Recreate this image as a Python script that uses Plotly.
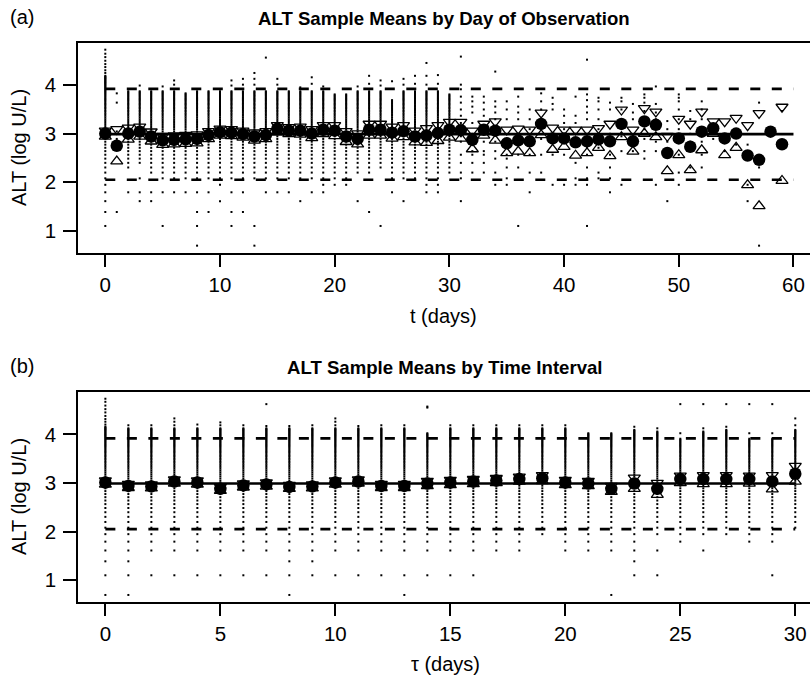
import numpy as np
import plotly.graph_objects as go

# ---------------- Panel (a): by day of observation ----------------
days_a = list(range(60))
mean_a = [3.00, 2.75, 3.00, 3.04, 2.94, 2.86, 2.87, 2.88, 2.89, 2.97,
          3.03, 3.02, 2.99, 2.94, 2.97, 3.10, 3.06, 3.06, 3.00, 3.08,
          3.06, 2.94, 2.89, 3.08, 3.08, 3.02, 3.05, 2.94, 2.96, 3.01,
          3.08, 3.07, 2.87, 3.08, 3.06, 2.80, 2.86, 2.84, 3.20, 2.90,
          2.90, 2.82, 2.84, 2.88, 2.84, 3.20, 2.84, 3.25, 3.18, 2.60,
          2.90, 2.73, 3.04, 3.11, 2.90, 3.00, 2.55, 2.46, 3.04, 2.78]
upper_a = [3.06, 3.09, 3.12, 3.14, 3.04, 2.95, 2.96, 2.97, 2.98, 3.05,
           3.10, 3.09, 3.06, 3.02, 3.05, 3.17, 3.13, 3.14, 3.09, 3.17,
           3.17, 3.05, 3.00, 3.20, 3.20, 3.14, 3.17, 3.06, 3.11, 3.17,
           3.24, 3.24, 3.06, 3.20, 3.25, 3.08, 3.10, 3.08, 3.43, 3.12,
           3.08, 3.08, 3.08, 3.11, 3.20, 3.49, 3.08, 3.52, 3.45, 2.95,
           3.30, 3.20, 3.45, 3.25, 3.25, 3.32, 3.17, 3.42, None, 3.55]
lower_a = [2.94, 2.43, 2.88, 2.94, 2.84, 2.77, 2.78, 2.79, 2.80, 2.89,
           2.96, 2.95, 2.92, 2.86, 2.89, 3.03, 2.99, 2.98, 2.91, 2.99,
           2.95, 2.83, 2.78, 2.96, 2.96, 2.90, 2.93, 2.82, 2.81, 2.85,
           2.92, 2.90, 2.68, 2.96, 2.86, 2.60, 2.63, 2.60, 2.97, 2.67,
           2.73, 2.55, 2.60, 2.71, 2.54, 2.93, 2.63, 3.00, 2.93, 2.23,
           2.56, 2.25, 2.66, 3.00, 2.56, 2.71, 1.94, 1.51, None, 2.03]

# individual ALT observations (U/L): a contiguous run lo..hi plus extra values
obs_lo_a = [7, None, 10, 11, 9, 8, 8, 8, 8, 8, 7, 8, 8, 8, 8, 8, 8, 8, 8, 7,
            8, 8, 9, 9, 10, 8, 8, 8, 6, 6, 9] + [None] * 29
obs_hi_a = [66, None, 48, 48, 48, 48, 48, 46, 48, 48, 48, 48, 48, 48, 48, 48, 48, 48, 48, 48,
            45, 45, 48, 48, 48, 40, 48, 48, 48, 48, 45] + [None] * 29
obs_extra_a = [
    [3, 4, 5, 6, 70, 74, 79, 84, 90, 97, 104, 113],
    [4, 15, 18, 21, 38, 46],
    [6], [5, 6, 8, 54], [5, 6], [3, 6, 53], [6, 55, 60], [6], [2, 3, 4, 6], [4, 6],
    [5], [3, 4, 6, 54, 60], [4, 6, 55, 62], [2, 3, 55, 62, 70], [6, 96], [6, 55, 62], [6],
    [5, 52], [6, 56, 64], [6, 53],
    [7], [7], [5, 53], [4, 56, 66], [3, 54, 60], [6, 59], [5, 55, 62], [56, 66],
    [55, 66, 86], [56, 67], [],
    [98, 55, 50, 43, 38, 33, 29, 25, 21, 19, 17, 13, 11, 9, 8, 5],
    [43, 39, 35, 31, 25, 20, 17, 14, 13, 11, 9],
    [43, 38, 33, 29, 22, 20, 17, 14, 13, 11, 9],
    [72, 39, 35, 31, 27, 21, 17, 14, 12, 9, 7],
    [39, 33, 27, 18, 16, 13, 12, 10, 8, 7],
    [43, 35, 31, 27, 20, 17, 13, 10, 3],
    [33, 27, 22, 18, 16, 13, 9, 6],
    [46, 39, 33, 27, 25, 18, 13, 9],
    [42, 37, 33, 20, 17, 13, 7],
    [33, 29, 25, 22, 17, 13, 7],
    [43, 29, 25, 20, 17, 11, 8, 7],
    [92, 45, 40, 35, 31, 27, 20, 15, 13, 10, 8, 7, 3],
    [42, 39, 33, 27, 22, 18, 15, 9, 8],
    [38, 33, 20, 17, 13, 10, 8, 6],
    [42, 39, 33, 25, 19, 14, 7],
    [37, 31, 27, 19, 17, 14],
    [45, 42, 38, 32, 27, 22, 18, 14, 12],
    [53, 37, 31, 27, 22, 17, 14, 7],
    [26, 22, 17, 5],
    [45, 42, 39, 33, 27, 22, 17, 13, 9, 7],
    [32, 27, 20, 17, 10],
    [39, 33, 27, 22, 17, 13, 10],
    [23, 20, 18],
    [17, 14],
    [16],
    [16, 13, 7, 5],
    [38, 10, 2],
    [21],
    [32],
]

# ---------------- Panel (b): by time interval ----------------
tau_b = list(range(31))
mean_b = [3.01, 2.94, 2.93, 3.03, 3.01, 2.88, 2.95, 2.97, 2.92, 2.93,
          3.01, 3.03, 2.94, 2.94, 2.99, 3.01, 3.03, 3.05, 3.08, 3.10,
          3.01, 2.99, 2.88, 2.99, 2.88, 3.08, 3.08, 3.08, 3.08, 3.03, 3.19]
upper_b = [3.05, 2.98, 2.97, 3.07, 3.05, 2.92, 2.99, 3.01, 2.96, 2.97,
           3.05, 3.07, 2.98, 2.98, 3.04, 3.06, 3.08, 3.10, 3.13, 3.16,
           3.06, 3.04, 2.94, 3.11, 3.00, 3.15, 3.16, 3.16, 3.15, 3.16, 3.35]
lower_b = [2.97, 2.90, 2.89, 2.99, 2.97, 2.84, 2.91, 2.93, 2.88, 2.89,
           2.97, 2.99, 2.90, 2.90, 2.94, 2.96, 2.98, 3.00, 3.03, 3.04,
           2.96, 2.94, 2.82, 2.88, 2.76, 3.00, 2.98, 2.98, 2.99, 2.87, 3.03]
obs_lo_b = [7] * 30 + [8]
obs_hi_b = [64, 62, 62, 62, 62, 62, 62, 62, 62, 62, 62, 62, 62, 62, 56, 62, 62, 62, 62, 62,
            62, 56, 56, 60, 58, 50, 58, 60, 50, 50, 60]
obs_extra_b = [
    [2, 3, 4, 5, 6, 67, 71, 75, 80, 86, 92, 99, 107, 114],
    [2, 3, 4, 5, 6, 66], [3, 5, 6, 66], [3, 5, 6, 66, 71, 76], [3, 5, 6, 67], [3, 5, 6, 66, 70],
    [3, 5, 6, 66], [3, 5, 6, 65, 102], [2, 3, 4, 5, 6, 65], [3, 4, 5, 6, 66], [3, 5, 6, 66, 71, 76],
    [3, 5, 6, 65], [3, 5, 6, 66], [2, 3, 5, 6, 66], [3, 5, 6, 95, 97],
    [3, 5, 6, 66], [3, 5, 6, 66], [5, 6, 66], [5, 6, 66], [66], [5, 6, 66], [5, 6], [2, 5, 6],
    [3, 4, 5, 6, 64], [3, 5, 62], [6, 56, 102], [5, 62, 102], [64, 102], [6, 56, 102],
    [3, 6, 56, 102], [66, 76],
]

ref_mean = 2.99
ref_upper = 3.92
ref_lower = 2.05

FONT = "Liberation Sans, Arial, Helvetica, sans-serif"
W, H = 810, 679


def obs_points(xs, lo, hi, extra):
    px, py = [], []
    for x, l, h, e in zip(xs, lo, hi, extra):
        vals = list(e)
        if l is not None:
            vals += list(range(l, h + 1))
        for v in vals:
            px.append(x)
            py.append(float(np.log(v)))
    return px, py


fig = go.Figure()


def add_panel(xs, mean, up, lo, obs, xend, xa, ya):
    px, py = obs_points(xs, *obs)
    fig.add_trace(go.Scatter(x=px, y=py, mode="markers", xaxis=xa, yaxis=ya,
                             marker=dict(symbol="square", size=2, color="black",
                                         line=dict(width=0)),
                             hoverinfo="skip", showlegend=False))
    for yv, dash in [(ref_upper, "10px,11.5px"), (ref_lower, "10px,11.5px"), (ref_mean, "solid")]:
        fig.add_trace(go.Scatter(x=[0, xend], y=[yv, yv], mode="lines", xaxis=xa, yaxis=ya,
                                 line=dict(color="black", width=2.6, dash=dash),
                                 hoverinfo="skip", showlegend=False))
    fig.add_trace(go.Scatter(x=xs, y=lo, mode="markers", xaxis=xa, yaxis=ya,
                             marker=dict(symbol="triangle-up-open", size=10.5, color="black",
                                         line=dict(width=1.3, color="black")),
                             showlegend=False))
    fig.add_trace(go.Scatter(x=xs, y=up, mode="markers", xaxis=xa, yaxis=ya,
                             marker=dict(symbol="triangle-down-open", size=10.5, color="black",
                                         line=dict(width=1.3, color="black")),
                             showlegend=False))
    fig.add_trace(go.Scatter(x=xs, y=mean, mode="markers", xaxis=xa, yaxis=ya,
                             marker=dict(symbol="circle", size=12.5, color="black",
                                         line=dict(width=0)),
                             showlegend=False))


add_panel(days_a, mean_a, upper_a, lower_a, (obs_lo_a, obs_hi_a, obs_extra_a), 60, "x", "y")
add_panel(tau_b, mean_b, upper_b, lower_b, (obs_lo_b, obs_hi_b, obs_extra_b), 30, "x2", "y2")


def px_x(p):
    return p / W


def px_y(p):
    return 1 - p / H


xcommon = dict(showgrid=False, zeroline=False, showline=True, mirror=True,
               linecolor="black", linewidth=1.5, ticks="outside", ticklen=12,
               tickwidth=1.5, tickcolor="black", ticklabelstandoff=1,
               tickfont=dict(family=FONT, size=20.5, color="black"))
ycommon = dict(showgrid=False, zeroline=False, showline=True, mirror=False,
               linecolor="black", linewidth=1.5, ticks="outside", ticklen=13,
               tickwidth=1.5, tickcolor="black", ticklabelstandoff=3,
               tickvals=[1, 2, 3, 4],
               tickfont=dict(family=FONT, size=20.5, color="black"))

fig.update_layout(
    width=W, height=H,
    margin=dict(l=0, r=0, t=0, b=0),
    paper_bgcolor="white", plot_bgcolor="white",
    font=dict(family=FONT, color="black"),
    xaxis=dict(domain=[px_x(78), 1], range=[-2.38, 61.44],
               tickvals=[0, 10, 20, 30, 40, 50, 60], anchor="y", **xcommon),
    yaxis=dict(domain=[px_y(253), px_y(43)], range=[0.542, 4.865], anchor="x", **ycommon),
    xaxis2=dict(domain=[px_x(78), 1], range=[-1.19, 30.64],
                tickvals=[0, 5, 10, 15, 20, 25, 30], anchor="y2", **xcommon),
    yaxis2=dict(domain=[px_y(602), px_y(392)], range=[0.548, 4.875], anchor="x2", **ycommon),
)

ann = []


def text(x, y, s, size=20, bold=False, angle=0, xanchor="center"):
    ann.append(dict(x=px_x(x), y=px_y(y), xref="paper", yref="paper", text=s,
                    showarrow=False, xanchor=xanchor, yanchor="middle", textangle=angle,
                    font=dict(family=FONT, size=size, color="black",
                              weight="bold" if bold else "normal")))


text(8, 17, "(a)", xanchor="left")
text(443.5, 18, "ALT Sample Means by Day of Observation", size=18.6, bold=True)
text(443.5, 316, "t (days)")
text(19, 148, "ALT (log U/L)", angle=-90)
text(8, 366, "(b)", xanchor="left")
text(445, 367, "ALT Sample Means by Time Interval", size=18.6, bold=True)
text(445, 664, "τ (days)")
text(19, 497, "ALT (log U/L)", angle=-90)
fig.update_layout(annotations=ann)

fig.write_html("out.html", config={"displayModeBar": False},
               post_script="document.body.style.margin='0';document.body.style.padding='0';")
